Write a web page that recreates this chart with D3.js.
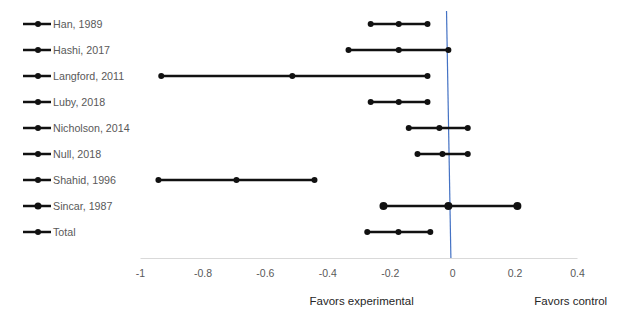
<!DOCTYPE html>
<html><head><meta charset="utf-8">
<script src="https://cdn.jsdelivr.net/npm/d3@7"></script>
<style>html,body{margin:0;padding:0;background:#fff;}svg{display:block;}</style>
</head><body>
<script>
const studies = ["Han, 1989","Hashi, 2017","Langford, 2011","Luby, 2018","Nicholson, 2014","Null, 2018","Shahid, 1996","Sincar, 1987","Total"];
const lower = [-0.261,-0.332,-0.932,-0.261,-0.139,-0.111,-0.941,-0.220,-0.272];
const estimate = [-0.171,-0.171,-0.512,-0.171,-0.041,-0.031,-0.691,-0.012,-0.172];
const upper = [-0.079,-0.012,-0.079,-0.079,0.050,0.050,-0.441,0.209,-0.070];
const bigMarker = [false,false,false,false,false,false,false,true,false];
const xTicks = [-1,-0.8,-0.6,-0.4,-0.2,0,0.2,0.4];
const xTickLabels = ["-1","-0.8","-0.6","-0.4","-0.2","0","0.2","0.4"];
const refLineX = [-0.018,-0.004];
const refLineRow = [-0.5,9];
const axisLabels = ["Favors experimental","Favors control"];
const axisLabelX = [-0.29,0.38];

const W=622,H=322;
const svg=d3.select("body").append("svg").attr("width",W).attr("height",H);
const x=d3.scaleLinear().domain([-1,0.4]).range([140,577]);
const y=d3.scaleLinear().domain([-0.5,9]).range([11,258]);
const font="'Liberation Sans', Arial, sans-serif";

// axis
const ax=svg.append("g").attr("transform","translate(0,258)")
  .call(d3.axisBottom(x).tickValues(xTicks).tickFormat((d,i)=>xTickLabels[i]).tickSize(0).tickPadding(12));
ax.select(".domain").attr("stroke","#d9d9d9").attr("stroke-width",1);
ax.selectAll("text").attr("fill","#595959").style("font-family",font).style("font-size","10.5px");

// reference line
svg.append("line").attr("x1",x(refLineX[0])).attr("y1",y(refLineRow[0]))
  .attr("x2",x(refLineX[1])).attr("y2",y(refLineRow[1]))
  .attr("stroke","#4472C4").attr("stroke-width",1.2);

// rows
studies.forEach((s,i)=>{
  const g=svg.append("g");
  const yy=y(i);
  g.append("line").attr("x1",x(lower[i])).attr("x2",x(upper[i])).attr("y1",yy).attr("y2",yy)
    .attr("stroke","#111").attr("stroke-width",2.5);
  const r=bigMarker[i]?4:3;
  [lower[i],estimate[i],upper[i]].forEach(v=>{
    g.append("circle").attr("cx",x(v)).attr("cy",yy).attr("r",r).attr("fill","#111");
  });
  // legend
  const ly=24+26*i;
  g.append("line").attr("x1",23).attr("x2",51).attr("y1",ly).attr("y2",ly).attr("stroke","#111").attr("stroke-width",2.5);
  g.append("circle").attr("cx",38).attr("cy",ly).attr("r",bigMarker[i]?3.5:3).attr("fill","#111");
  g.append("text").attr("x",53).attr("y",ly+4).text(s).attr("fill","#595959")
    .style("font-family",font).style("font-size","10.7px");
});

// axis labels
axisLabels.forEach((t,i)=>{
  svg.append("text").attr("x",x(axisLabelX[i])).attr("y",305).attr("text-anchor","middle")
    .text(t).attr("fill","#262626").style("font-family",font).style("font-size","11.5px");
});
</script>
</body></html>
